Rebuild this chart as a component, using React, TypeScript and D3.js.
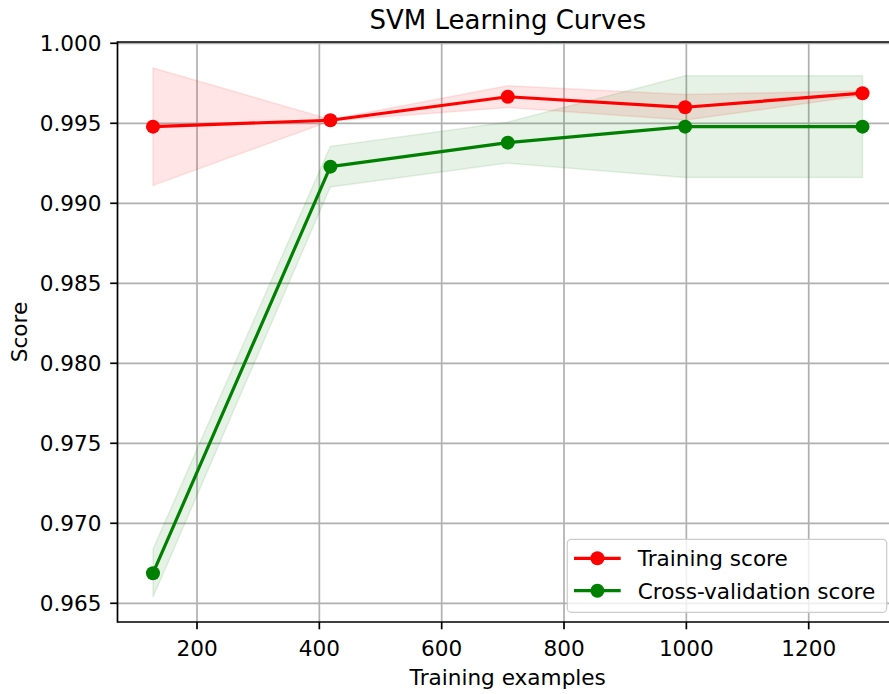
import React from "react";
import * as d3 from "d3";

const trainSizes = [128, 418, 708, 998, 1288];
const trainMean = [0.99479, 0.99519, 0.99666, 0.99600, 0.99688];
const trainStd = [0.00367, 0.00005, 0.00068, 0.00080, 0.00015];
const cvMean = [0.96688, 0.99229, 0.99379, 0.99479, 0.99479];
const cvStd = [0.00150, 0.00127, 0.00128, 0.00318, 0.00318];
const xTicks = [200, 400, 600, 800, 1000, 1200];
const yTicks = [0.965, 0.97, 0.975, 0.98, 0.985, 0.99, 0.995, 1.0];
const seriesNames = ["Training score", "Cross-validation score"];
const seriesColors = ["#ff0000", "#008000"];

const W = 889;
const H = 694;
const L = 117.5, R = 898, T = 42, B = 622;
const FONT = "DejaVu Sans, sans-serif";
const LW = 1.7;
const FS = 21.6;
const TFS = 26;
const MR = 7;
const LINEW = 3.2;

export default function App() {
  const x = d3.scaleLinear().domain([70, 1346]).range([L, R]);
  const y = d3.scaleLinear().domain([0.96383, 1.00008]).range([B, T]);

  const series = [
    { mean: trainMean, std: trainStd },
    { mean: cvMean, std: cvStd },
  ];

  const bandPath = (mean: number[], std: number[]) =>
    d3
      .area<number>()
      .x((_, i) => x(trainSizes[i]))
      .y0((_, i) => y(mean[i] - std[i]))
      .y1((_, i) => y(mean[i] + std[i]))(mean) as string;

  const linePath = (mean: number[]) =>
    d3
      .line<number>()
      .x((_, i) => x(trainSizes[i]))
      .y((d) => y(d))(mean) as string;

  return (
    <svg
      width={W}
      height={H}
      style={{ position: "absolute", left: 0, top: 0 }}
      fontFamily={FONT}
    >
      <rect x={0} y={0} width={W} height={H} fill="#fff" />
      <defs>
        <clipPath id="plot">
          <rect x={L} y={T} width={R - L} height={B - T} />
        </clipPath>
      </defs>
      {/* grid */}
      <g stroke="#b0b0b0" strokeWidth={LW}>
        {xTicks.map((t) => (
          <line key={"gx" + t} x1={x(t)} x2={x(t)} y1={T} y2={B} />
        ))}
        {yTicks.map((t) => (
          <line key={"gy" + t} x1={L} x2={R} y1={y(t)} y2={y(t)} />
        ))}
      </g>
      <g clipPath="url(#plot)">
        {series.map((s, k) => (
          <path
            key={"band" + k}
            d={bandPath(s.mean, s.std)}
            fill={seriesColors[k]}
            fillOpacity={0.1}
            stroke={seriesColors[k]}
            strokeOpacity={0.1}
            strokeWidth={1.5}
          />
        ))}
        {series.map((s, k) => (
          <g key={"line" + k}>
            <path
              d={linePath(s.mean)}
              fill="none"
              stroke={seriesColors[k]}
              strokeWidth={LINEW}
              strokeLinejoin="round"
            />
            {s.mean.map((v, i) => (
              <circle
                key={i}
                cx={x(trainSizes[i])}
                cy={y(v)}
                r={MR}
                fill={seriesColors[k]}
              />
            ))}
          </g>
        ))}
      </g>
      {/* spines */}
      <g stroke="#000" strokeWidth={LW} fill="none">
        <line x1={L} x2={L} y1={T - LW / 2} y2={B + LW / 2} />
        <line x1={L} x2={W + 10} y1={B} y2={B} />
        <line x1={L} x2={W + 10} y1={T} y2={T} />
      </g>
      {/* x ticks */}
      {xTicks.map((t) => (
        <g key={"xt" + t}>
          <line x1={x(t)} x2={x(t)} y1={B} y2={B + 7.3} stroke="#000" strokeWidth={LW} />
          <text x={x(t)} y={655.7} textAnchor="middle" fontSize={FS} fill="#000">
            {t}
          </text>
        </g>
      ))}
      {/* y ticks */}
      {yTicks.map((t) => (
        <g key={"yt" + t}>
          <line x1={L - 7.3} x2={L} y1={y(t)} y2={y(t)} stroke="#000" strokeWidth={LW} />
          <text x={101.5} y={y(t) + 8} textAnchor="end" fontSize={FS} fill="#000">
            {d3.format(".3f")(t)}
          </text>
        </g>
      ))}
      {/* labels */}
      <text x={(L + R) / 2} y={28.5} textAnchor="middle" fontSize={TFS} fill="#000">
        SVM Learning Curves
      </text>
      <text x={(L + R) / 2} y={684.5} textAnchor="middle" fontSize={FS} fill="#000">
        Training examples
      </text>
      <text
        transform={`translate(26.5, ${(T + B) / 2}) rotate(-90)`}
        textAnchor="middle"
        fontSize={FS}
        fill="#000"
      >
        Score
      </text>
      {/* legend */}
      <g>
        <rect
          x={567.3}
          y={539.3}
          width={319.4}
          height={73}
          rx={4}
          ry={4}
          fill="#fff"
          fillOpacity={0.8}
          stroke="#cccccc"
          strokeWidth={1.2}
        />
        {seriesNames.map((name, k) => {
          const yy = 558.3 + k * 32.4;
          return (
            <g key={name}>
              <line x1={574} x2={620.7} y1={yy} y2={yy} stroke={seriesColors[k]} strokeWidth={LINEW} />
              <circle cx={597.4} cy={yy} r={MR} fill={seriesColors[k]} />
              <text x={637.7} y={yy + 7.8} fontSize={FS} fill="#000">
                {name}
              </text>
            </g>
          );
        })}
      </g>
    </svg>
  );
}
